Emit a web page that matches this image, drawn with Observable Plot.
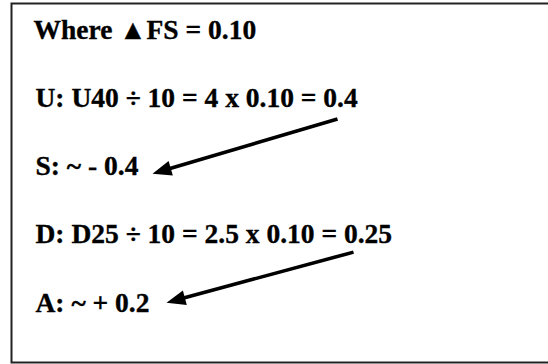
<!DOCTYPE html>
<html><head><meta charset="utf-8">
<script src="https://cdn.jsdelivr.net/npm/d3@7"></script>
<script src="https://cdn.jsdelivr.net/npm/@observablehq/plot@0.6"></script>
<style>html,body{margin:0;padding:0;background:#fff}#chart svg{display:block}</style>
</head><body><div id="chart"></div>
<script>
// Text lines of the note (row index = line number)
const lineText = [
  "Where \u25B2FS = 0.10",
  "U: U40 \u00F7 10 = 4 x 0.10 = 0.4",
  "S: ~ - 0.4",
  "D: D25 \u00F7 10 = 2.5 x 0.10 = 0.25",
  "A: ~ + 0.2"
];
const lineRow = [0, 1, 2, 3, 4];
const lineX = [33, 35, 35, 35, 35];

// Arrows: from the result of a computation line to the estimate line
const arrowFromX = [337, 353];
const arrowFromRow = [1.18, 3.13];
const arrowToX = [152, 166];
const arrowToRow = [1.98, 3.87];

const W = 548, H = 364;
const xOpts = {domain: [0, 548], range: [0, 548]};
const yOpts = {domain: [0, 4], range: [38, 311]};
const xs = Plot.scale({x: xOpts});
const ys = Plot.scale({y: yOpts});

const lines = lineText.map((t, i) => ({text: t, row: lineRow[i], x: lineX[i]}));
const arrows = arrowFromX.map((_, i) => {
  const px1 = xs.apply(arrowFromX[i]), py1 = ys.apply(arrowFromRow[i]);
  const px2 = xs.apply(arrowToX[i]), py2 = ys.apply(arrowToRow[i]);
  const dx = px2 - px1, dy = py2 - py1, len = Math.hypot(dx, dy);
  const cut = 12;
  return {
    x1: arrowFromX[i], y1: arrowFromRow[i],
    x2: xs.invert(px2 - dx / len * cut), y2: ys.invert(py2 - dy / len * cut),
    tx: arrowToX[i], ty: arrowToRow[i],
    angle: Math.atan2(dx, -dy) * 180 / Math.PI
  };
});

// narrow filled arrowhead with its tip at the origin, pointing up
const arrowHead = {
  draw(context) {
    context.moveTo(0, 0);
    context.lineTo(-7.5, 19);
    context.lineTo(7.5, 19);
    context.closePath();
  }
};

const chart = Plot.plot({
  width: W,
  height: H,
  marginLeft: 11,
  marginTop: 3,
  marginBottom: 2,
  marginRight: 0,
  x: {...xOpts, axis: null},
  y: {...yOpts, axis: null},
  style: {background: "#fff"},
  marks: [
    Plot.frame({stroke: "#222", strokeWidth: 2, insetRight: -6}),
    Plot.text(lines, {
      x: "x", y: "row", text: "text",
      textAnchor: "start", lineAnchor: "bottom",
      fontFamily: "Liberation Serif, Times New Roman, serif",
      fontWeight: "bold", fontSize: 27.5, fill: "#000",
      stroke: "#000", strokeWidth: 0.35
    }),
    Plot.link(arrows, {x1: "x1", y1: "y1", x2: "x2", y2: "y2", stroke: "#000", strokeWidth: 3.6}),
    Plot.dot(arrows, {x: "tx", y: "ty", rotate: "angle", symbol: arrowHead, fill: "#000", stroke: "none"})
  ]
});
document.getElementById("chart").append(chart);
</script>
</body></html>
